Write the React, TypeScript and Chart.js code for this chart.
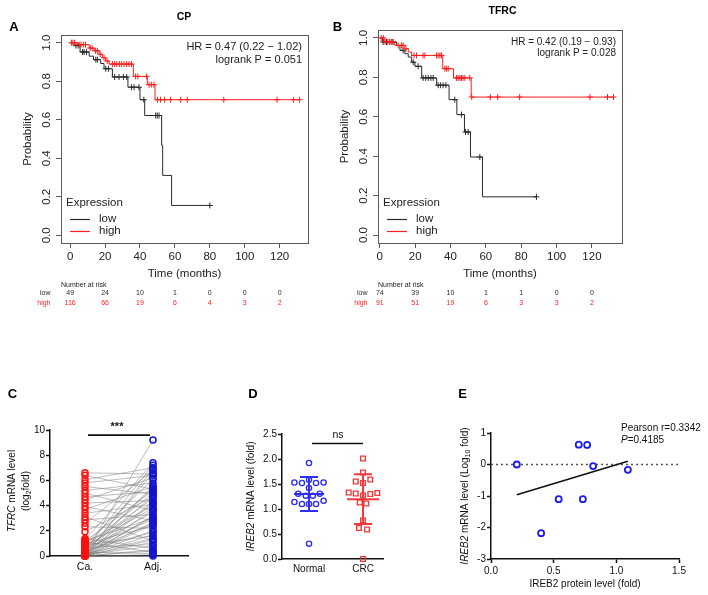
import React, { useEffect, useRef } from "react";
import { Chart, registerables } from "chart.js";

Chart.register(...registerables);

const FONT = "'Liberation Sans', Arial, Helvetica, sans-serif";
const f = (size: number, style = "") => `${style} ${size}px ${FONT}`.trim();

// ================= DATA =================
// Kaplan-Meier shared
const kmTimeTicks = [0, 20, 40, 60, 80, 100, 120];
const kmProbTicks = [0, 0.2, 0.4, 0.6, 0.8, 1.0];
const riskGroups = ["low", "high"];

// Panel A: CP
const cpLowTimes = [0, 2.3, 5.7, 10.9, 13.4, 17.5, 19.4, 24.2, 33.1, 40, 42.7, 52.4, 53, 58.1];
const cpLowSurv = [1, 0.985, 0.952, 0.93, 0.912, 0.892, 0.865, 0.822, 0.769, 0.704, 0.622, 0.467, 0.311, 0.155];
const cpLowCensor = [3.3, 4.6, 7.1, 8, 9.4, 14.7, 15.6, 20.4, 21.9, 25.5, 28, 30.5, 32.4, 35.1, 36.6, 39.4, 42.2, 49, 49.9, 50.9, 80];
const cpHighTimes = [0, 4.5, 10.9, 13.7, 16.6, 18.5, 20.4, 22.3, 36.2, 44.2, 48.6];
const cpHighSurv = [1, 0.99, 0.972, 0.958, 0.94, 0.922, 0.905, 0.889, 0.825, 0.782, 0.704];
const cpHighCensor = [0.8, 1.6, 2.5, 5.2, 6.2, 7.5, 8.8, 11.5, 12.6, 14.5, 15.6, 17.2, 19.4, 21.2, 24.2, 25.5, 26.7, 28.2, 29.5, 30.9, 32.4, 33.7, 35.1, 37.5, 38.8, 43.8, 45.2, 46.5, 48, 50, 51.8, 54.1, 57.5, 63.3, 67.1, 88, 118.5, 128, 131.4];
const cpRiskLow = [49, 24, 10, 1, 0, 0, 0];
const cpRiskHigh = [116, 66, 19, 6, 4, 3, 2];

// Panel B: TFRC
const tfLowTimes = [0, 1.5, 9.5, 11.4, 14.2, 16.1, 18, 19.9, 23.7, 32.2, 39.2, 43.6, 47.9, 51.3, 58.1];
const tfLowSurv = [1, 0.979, 0.962, 0.937, 0.92, 0.903, 0.877, 0.856, 0.797, 0.76, 0.687, 0.611, 0.523, 0.396, 0.194];
const tfLowCensor = [1.9, 3.8, 5.7, 7.5, 13.2, 18.9, 21.7, 24.5, 26, 27.4, 28.9, 30.2, 33, 34.3, 35.8, 37.4, 42.4, 46.2, 48.5, 50, 56.6, 88.6];
const tfHighTimes = [0, 2.5, 8.5, 14.2, 16.1, 18, 35.6, 41.7, 51.7];
const tfHighSurv = [1, 0.98, 0.962, 0.945, 0.928, 0.911, 0.844, 0.797, 0.7];
const tfHighCensor = [0.8, 2, 3, 4.5, 5.5, 6.6, 7.5, 10.4, 12.3, 13.2, 14.8, 19.4, 20.8, 24.5, 25.5, 32.1, 33, 34, 34.9, 36.8, 37.7, 38.7, 43.4, 44.3, 45.3, 46.2, 47.1, 48.1, 50.9, 52, 62.5, 66.7, 79.1, 118.9, 128.8, 132.2];
const tfRiskLow = [74, 39, 10, 1, 1, 0, 0];
const tfRiskHigh = [91, 51, 19, 6, 3, 3, 2];

// Panel C: paired TFRC mRNA
const pairCategories = ["Ca.", "Adj."];
const pairTicks = [0, 2, 4, 6, 8, 10];
const caValues = [
  6.6, 6.4, 6.06, 5.8, 5.52, 5.2, 4.99, 4.7, 4.46, 4.2, 3.92, 3.7, 3.39, 3.1, 2.86, 2.6, 2.32, 1.92, 1.39, 1.28,
  1.22, 1.16, 1.1, 1.04, 0.98, 0.92, 0.86, 0.8, 0.74, 0.68, 0.62, 0.56, 0.5, 0.45, 0.4, 0.35, 0.3, 0.26, 0.22, 0.18,
  0.15, 0.12, 0.1, 0.08, 0.06, 0.05, 0.04, 0.03, 0.02, 0.01, 0.0, 0.0, 0.0, 0.0, 0.0, 0.0, 0.0, 0.0, 0.0, 0.0,
];
const adjValues = [
  6.5, 5.3, 7.0, 6.4, 4.9, 5.8, 3.6, 5.1, 6.2, 4.4, 2.8, 5.5, 4.1, 1.2, 3.3, 6.8, 2.2, 4.7, 0.6, 7.4,
  3.0, 5.2, 0.3, 4.0, 2.4, 6.1, 1.6, 3.8, 5.0, 0.9, 2.9, 4.6, 7.2, 1.9, 3.5, 5.4, 0.2, 2.6, 4.3, 9.2,
  1.4, 3.1, 6.6, 0.8, 2.0, 4.8, 1.1, 3.7, 5.6, 0.4, 2.5, 4.2, 1.7, 6.9, 0.1, 3.2, 0.5, 2.7, 1.3, 0.0,
];

// Panel D: IREB2 mRNA
const groupCategories = ["Normal", "CRC"];
const groupTicks = [0, 0.5, 1.0, 1.5, 2.0, 2.5];
const normalValues = [1.92, 1.53, 1.52, 1.586, 1.52, 1.53, 1.42, 1.306, 1.266, 1.266, 1.306, 1.14, 1.1, 1.1, 1.1, 1.166, 0.306];
const normalJitter = [0, -0.27, -0.13, 0, 0.13, 0.27, 0, -0.2, -0.06, 0.07, 0.2, -0.27, -0.13, 0, 0.13, 0.27, 0];
const crcValues = [2.01, 1.73, 1.55, 1.52, 1.59, 1.33, 1.31, 1.27, 1.3, 1.32, 1.13, 1.11, 0.77, 0.62, 0.59, 0.0];
const crcJitter = [0, 0, -0.135, 0, 0.135, -0.265, -0.135, 0, 0.135, 0.265, -0.06, 0.06, 0, -0.075, 0.075, 0];

// Panel E: correlation
const proteinLevels = [0.206, 0.4, 0.54, 0.733, 0.815, 1.092, 0.7, 0.767];
const mrnaLog10 = [0, -2.18, -1.1, -1.1, -0.05, -0.17, 0.63, 0.62];
const corrXTicks = [0, 0.5, 1.0, 1.5];
const corrYTicks = [-3, -2, -1, 0, 1];

// ================= HELPERS =================
type Seg = { t: string; f: string; dy?: number };

function text(ctx: any, str: string, x: number, y: number, font: string, color: string, align: CanvasTextAlign = "center", rotate = false) {
  ctx.save();
  ctx.translate(x, y);
  if (rotate) ctx.rotate(-Math.PI / 2);
  ctx.font = font;
  ctx.fillStyle = color;
  ctx.textAlign = align;
  ctx.textBaseline = "middle";
  ctx.fillText(str, 0, 0);
  ctx.restore();
}

function rich(ctx: any, segs: Seg[], x: number, y: number, color: string, rotate = false, align: "left" | "center" = "center") {
  ctx.save();
  ctx.translate(x, y);
  if (rotate) ctx.rotate(-Math.PI / 2);
  ctx.fillStyle = color;
  ctx.textBaseline = "middle";
  ctx.textAlign = "left";
  let total = 0;
  for (const s of segs) {
    ctx.font = s.f;
    total += ctx.measureText(s.t).width;
  }
  let cx = align === "center" ? -total / 2 : 0;
  for (const s of segs) {
    ctx.font = s.f;
    ctx.fillText(s.t, cx, s.dy || 0);
    cx += ctx.measureText(s.t).width;
  }
  ctx.restore();
}

const fixedTicks = (values: number[]) => (axis: any) => {
  axis.ticks = values.map((v) => ({ value: v }));
};

function stepAt(times: number[], surv: number[], t: number) {
  let s = surv[0];
  for (let i = 0; i < times.length; i++) if (times[i] <= t) s = surv[i];
  return s;
}

const AX = 20;
function padFor(W: number, H: number, a: { l: number; t: number; r: number; b: number }) {
  return { left: a.l - AX, top: a.t, right: W - a.r, bottom: H - a.b - AX };
}

// ================= KM PANELS =================
const LOW = "#2a2a2a";
const HIGH = "#ff1f1f";

type KMSpec = {
  W: number; H: number;
  area: { l: number; t: number; r: number; b: number };
  xMin: number; xMax: number;
  lowTimes: number[]; lowSurv: number[]; lowCensor: number[];
  highTimes: number[]; highSurv: number[]; highCensor: number[];
  riskLow: number[]; riskHigh: number[];
  title: string; titleX: number; titleY: number;
  letter: string; letterX: number; letterY: number;
  hr: string; lr: string; hrSize: number; hrY1: number; hrY2: number;
};

function makeKM(s: KMSpec) {
  const curve = (times: number[], surv: number[], censor: number[]) => {
    const end = Math.max(times[times.length - 1], ...censor);
    return [...times.map((x, i) => ({ x, y: surv[i] })), { x: end, y: surv[surv.length - 1] }];
  };
  const marks = (times: number[], surv: number[], censor: number[]) =>
    censor.map((x) => ({ x, y: stepAt(times, surv, x) }));

  const decor = {
    id: "kmDecor",
    afterDraw(chart: any) {
      const { ctx, chartArea: a } = chart;
      const xs = chart.scales.x;
      const ys = chart.scales.y;
      ctx.save();
      ctx.strokeStyle = "#5a5a5a";
      ctx.lineWidth = 1;
      ctx.strokeRect(a.left + 0.5, a.top + 0.5, a.right - a.left, a.bottom - a.top);
      ctx.restore();
      kmProbTicks.forEach((v) => text(ctx, v.toFixed(1), a.left - 14, ys.getPixelForValue(v), f(11.5), "#222", "center", true));
      text(ctx, "Probability", a.left - 33, (a.top + a.bottom) / 2, f(11.5), "#222", "center", true);
      text(ctx, "Time (months)", (a.left + a.right) / 2, a.bottom + 31, f(11.5), "#222", "center");
      text(ctx, s.title, s.titleX, s.titleY, f(10.5, "bold"), "#000", "center");
      text(ctx, s.letter, s.letterX, s.letterY, f(13, "bold"), "#000", "center");
      text(ctx, s.hr, a.right - 6, s.hrY1, f(s.hrSize), "#222", "right");
      text(ctx, s.lr, a.right - 6, s.hrY2, f(s.hrSize), "#222", "right");
      // legend
      text(ctx, "Expression", a.left + 5, a.bottom - 40.5, f(11.5), "#222", "left");
      const leg: [string, string, number][] = [[LOW, riskGroups[0], 24], [HIGH, riskGroups[1], 12]];
      leg.forEach(([c, lab, off]) => {
        ctx.save();
        ctx.strokeStyle = c;
        ctx.lineWidth = 1.2;
        ctx.beginPath();
        ctx.moveTo(a.left + 9, a.bottom - off + 0.5);
        ctx.lineTo(a.left + 29, a.bottom - off + 0.5);
        ctx.stroke();
        ctx.restore();
        text(ctx, lab, a.left + 38, a.bottom - off, f(11.5), "#222", "left");
      });
      // number at risk
      text(ctx, "Number at risk", a.left, a.bottom + 42, f(7), "#222", "left");
      const rows: [number[], string, number][] = [[s.riskLow, LOW, 50.5], [s.riskHigh, HIGH, 60]];
      rows.forEach(([vals, c, off], gi) => {
        text(ctx, riskGroups[gi], a.left - 10.5, a.bottom + off, f(7), c, "right");
        vals.forEach((v, i) => text(ctx, String(v), xs.getPixelForValue(kmTimeTicks[i]), a.bottom + off, f(7), c, "center"));
      });
    },
  };

  const gridOpts = { drawOnChartArea: false, drawTicks: true, tickLength: 5, color: "#5a5a5a", lineWidth: 1 };
  return {
    type: "scatter",
    data: {
      datasets: [
        { data: curve(s.lowTimes, s.lowSurv, s.lowCensor), showLine: true, stepped: true, borderColor: LOW, borderWidth: 1, pointRadius: 0, fill: false, order: 3 },
        { data: curve(s.highTimes, s.highSurv, s.highCensor), showLine: true, stepped: true, borderColor: HIGH, borderWidth: 1, pointRadius: 0, fill: false, order: 2 },
        { data: marks(s.lowTimes, s.lowSurv, s.lowCensor), showLine: false, pointStyle: "cross", pointRadius: 3, borderColor: LOW, borderWidth: 1, order: 1 },
        { data: marks(s.highTimes, s.highSurv, s.highCensor), showLine: false, pointStyle: "cross", pointRadius: 3, borderColor: HIGH, borderWidth: 1, order: 0 },
      ],
    },
    options: {
      animation: false,
      responsive: false,
      devicePixelRatio: 1,
      events: [],
      layout: { padding: padFor(s.W, s.H, s.area) },
      plugins: { legend: { display: false }, tooltip: { enabled: false } },
      scales: {
        x: {
          type: "linear", min: s.xMin, max: s.xMax,
          afterBuildTicks: fixedTicks(kmTimeTicks),
          afterFit: (sc: any) => { sc.height = AX; },
          ticks: { font: { family: FONT, size: 11.5 }, color: "#222", padding: 2, autoSkip: false, maxRotation: 0, callback: (v: any) => String(v) },
          grid: gridOpts,
          border: { display: false },
        },
        y: {
          type: "linear", min: -0.04, max: 1.04,
          afterBuildTicks: fixedTicks(kmProbTicks),
          afterFit: (sc: any) => { sc.width = AX; },
          ticks: { color: "rgba(0,0,0,0)", font: { family: FONT, size: 11.5 } },
          grid: gridOpts,
          border: { display: false },
        },
      },
    },
    plugins: [decor],
  };
}

// ================= PANEL C =================
const RED_C = "#ff1010";
const BLUE_C = "#1414cc";
const AXIS = "#111";

const axisY = (min: number, max: number, ticks: number[], fmt: (v: number) => string) => ({
  type: "linear", min, max,
  afterBuildTicks: fixedTicks(ticks),
  afterFit: (sc: any) => { sc.width = AX; },
  ticks: { font: { family: FONT, size: 10 }, color: AXIS, padding: 1, callback: (v: any) => fmt(Number(v)) },
  grid: { drawOnChartArea: false, drawTicks: true, tickLength: 4, tickColor: AXIS, tickWidth: 1.5 },
  border: { display: true, color: AXIS, width: 1.5 },
});

function makeC() {
  const W = 200, H = 220;
  const area = { l: 50, t: 55, r: 188, b: 181 };
  const lineData: any[] = [];
  caValues.forEach((v, i) => {
    lineData.push({ x: 1, y: v }, { x: 2, y: adjValues[i] }, { x: 1.5, y: null });
  });
  const decor = {
    id: "cDecor",
    afterDraw(chart: any) {
      const { ctx, chartArea: a } = chart;
      const xs = chart.scales.x, ys = chart.scales.y;
      text(ctx, "C", 12.5, 19, f(13, "bold"), "#000", "center");
      const cy = (a.top + a.bottom) / 2 - 2;
      rich(ctx, [{ t: "TFRC", f: f(10, "italic") }, { t: " mRNA level", f: f(10) }], 12.5, cy, AXIS, true);
      rich(ctx, [{ t: "(log", f: f(10) }, { t: "2", f: f(7), dy: 3 }, { t: "fold)", f: f(10) }], 26.5, cy, AXIS, true);
      const sy = ys.getPixelForValue(9.6);
      ctx.save();
      ctx.strokeStyle = AXIS;
      ctx.lineWidth = 1.8;
      ctx.beginPath();
      ctx.moveTo(xs.getPixelForValue(1) + 3, sy);
      ctx.lineTo(xs.getPixelForValue(2) - 3, sy);
      ctx.stroke();
      ctx.restore();
      text(ctx, "***", (xs.getPixelForValue(1) + xs.getPixelForValue(2)) / 2 - 2, sy - 8, f(11, "bold"), AXIS, "center");
    },
  };
  return {
    type: "scatter",
    data: {
      datasets: [
        { data: lineData, showLine: true, spanGaps: false, borderColor: "rgba(120,120,120,0.7)", borderWidth: 0.7, pointRadius: 0, order: 3, clip: false },
        { data: caValues.map((y) => ({ x: 1, y })), showLine: false, pointRadius: 3, borderWidth: 1.5, borderColor: RED_C, backgroundColor: "rgba(0,0,0,0)", order: 2, clip: false },
        { data: adjValues.map((y) => ({ x: 2, y })), showLine: false, pointRadius: 3, borderWidth: 1.5, borderColor: BLUE_C, backgroundColor: "rgba(0,0,0,0)", order: 1, clip: false },
      ],
    },
    options: {
      animation: false, responsive: false, devicePixelRatio: 1, events: [],
      layout: { padding: padFor(W, H, area) },
      plugins: { legend: { display: false }, tooltip: { enabled: false } },
      scales: {
        x: {
          type: "linear", min: 0.485, max: 2.515,
          afterBuildTicks: fixedTicks([1, 2]),
          afterFit: (sc: any) => { sc.height = AX; },
          ticks: { font: { family: FONT, size: 10.5 }, color: AXIS, padding: 5, autoSkip: false, maxRotation: 0, callback: (v: any) => pairCategories[Number(v) - 1] },
          grid: { drawOnChartArea: false, drawTicks: false },
          border: { display: true, color: AXIS, width: 1.5 },
        },
        y: axisY(0, 10, pairTicks, (v) => String(v)),
      },
    },
    plugins: [decor],
  };
}

// ================= PANEL D =================
const BLUE_D = "#2f2ff2";
const RED_D = "#f03a3a";

function meanSd(arr: number[]) {
  const m = arr.reduce((a, b) => a + b, 0) / arr.length;
  const sd = Math.sqrt(arr.reduce((a, b) => a + (b - m) * (b - m), 0) / (arr.length - 1));
  return { m, sd };
}

function makeD() {
  const W = 200, H = 220;
  const area = { l: 82, t: 59, r: 183, b: 184 };
  const decor = {
    id: "dDecor",
    afterDatasetsDraw(chart: any) {
      const { ctx } = chart;
      const xs = chart.scales.x, ys = chart.scales.y;
      [[normalValues, BLUE_D, 1, 15], [crcValues, RED_D, 2, 16]].forEach(([vals, c, gx, hw]: any) => {
        const { m, sd } = meanSd(vals);
        const x = xs.getPixelForValue(gx);
        const ym = ys.getPixelForValue(m), y1 = ys.getPixelForValue(m + sd), y2 = ys.getPixelForValue(m - sd);
        ctx.save();
        ctx.strokeStyle = c;
        ctx.lineWidth = 2;
        ctx.beginPath();
        ctx.moveTo(x - hw, ym); ctx.lineTo(x + hw, ym);
        ctx.moveTo(x - 9, y1); ctx.lineTo(x + 9, y1);
        ctx.moveTo(x - 9, y2); ctx.lineTo(x + 9, y2);
        ctx.moveTo(x, y1); ctx.lineTo(x, y2);
        ctx.stroke();
        ctx.restore();
      });
    },
    afterDraw(chart: any) {
      const { ctx, chartArea: a } = chart;
      const xs = chart.scales.x, ys = chart.scales.y;
      text(ctx, "D", 53, 19, f(13, "bold"), "#000", "center");
      rich(ctx, [{ t: "IREB2", f: f(10, "italic") }, { t: " mRNA level (fold)", f: f(10) }], 51.7, (a.top + a.bottom) / 2, AXIS, true);
      const sy = ys.getPixelForValue(2.31);
      ctx.save();
      ctx.strokeStyle = AXIS;
      ctx.lineWidth = 1.5;
      ctx.beginPath();
      ctx.moveTo(xs.getPixelForValue(1) + 3, sy);
      ctx.lineTo(xs.getPixelForValue(2), sy);
      ctx.stroke();
      ctx.restore();
      text(ctx, "ns", (xs.getPixelForValue(1) + xs.getPixelForValue(2)) / 2 + 2, sy - 8, f(10.5), AXIS, "center");
    },
  };
  return {
    type: "scatter",
    data: {
      datasets: [
        { data: normalValues.map((y, i) => ({ x: 1 + normalJitter[i], y })), pointStyle: "circle", pointRadius: 2.6, borderWidth: 1.4, borderColor: BLUE_D, backgroundColor: "rgba(0,0,0,0)", clip: false },
        { data: crcValues.map((y, i) => ({ x: 2 + crcJitter[i], y })), pointStyle: "rect", pointRadius: 3.3, borderWidth: 1.4, borderColor: RED_D, backgroundColor: "rgba(0,0,0,0)", clip: false },
      ],
    },
    options: {
      animation: false, responsive: false, devicePixelRatio: 1, events: [],
      layout: { padding: padFor(W, H, area) },
      plugins: { legend: { display: false }, tooltip: { enabled: false } },
      scales: {
        x: {
          type: "linear", min: 0.5, max: 2.37,
          afterBuildTicks: fixedTicks([1, 2]),
          afterFit: (sc: any) => { sc.height = AX; },
          ticks: { font: { family: FONT, size: 10 }, color: AXIS, padding: 4, autoSkip: false, maxRotation: 0, callback: (v: any) => groupCategories[Number(v) - 1] },
          grid: { drawOnChartArea: false, drawTicks: false },
          border: { display: true, color: AXIS, width: 1.5 },
        },
        y: axisY(0, 2.5, groupTicks, (v) => v.toFixed(1)),
      },
    },
    plugins: [decor],
  };
}

// ================= PANEL E =================
const BLUE_E = "#1c1cf0";

function makeE() {
  const W = 308, H = 220;
  const area = { l: 91, t: 58, r: 279, b: 184 };
  const n = proteinLevels.length;
  const mx = proteinLevels.reduce((a, b) => a + b, 0) / n;
  const my = mrnaLog10.reduce((a, b) => a + b, 0) / n;
  let sxy = 0, sxx = 0;
  proteinLevels.forEach((x, i) => { sxy += (x - mx) * (mrnaLog10[i] - my); sxx += (x - mx) * (x - mx); });
  const slope = sxy / sxx;
  const icpt = my - slope * mx;
  const x0 = Math.min(...proteinLevels), x1 = Math.max(...proteinLevels);
  const decor = {
    id: "eDecor",
    afterDraw(chart: any) {
      const { ctx, chartArea: a } = chart;
      text(ctx, "E", 62.5, 19, f(13, "bold"), "#000", "center");
      rich(ctx, [
        { t: "IREB2", f: f(10, "italic") },
        { t: " mRNA level (Log", f: f(10) },
        { t: "10", f: f(7), dy: 3 },
        { t: " fold)", f: f(10) },
      ], 65, (a.top + a.bottom) / 2, AXIS, true);
      text(ctx, "IREB2 protein level (fold)", (a.left + a.right) / 2, 209, f(10), AXIS, "center");
      text(ctx, "Pearson r=0.3342", 221, 53, f(10), AXIS, "left");
      rich(ctx, [{ t: "P", f: f(10, "italic") }, { t: "=0.4185", f: f(10) }], 221, 65, AXIS, false, "left");
    },
  };
  return {
    type: "scatter",
    data: {
      datasets: [
        { data: proteinLevels.map((x, i) => ({ x, y: mrnaLog10[i] })), pointRadius: 3, borderWidth: 1.8, borderColor: BLUE_E, backgroundColor: "#fff", order: 1, clip: false },
        { data: [{ x: x0, y: icpt + slope * x0 }, { x: x1, y: icpt + slope * x1 }], showLine: true, pointRadius: 0, borderColor: "#111", borderWidth: 1.6, order: 2, clip: false },
        { data: [{ x: corrXTicks[0], y: 0 }, { x: corrXTicks[corrXTicks.length - 1], y: 0 }], showLine: true, pointRadius: 0, borderColor: "#555", borderWidth: 1.5, borderDash: [2, 3], order: 3, clip: false },
      ],
    },
    options: {
      animation: false, responsive: false, devicePixelRatio: 1, events: [],
      layout: { padding: padFor(W, H, area) },
      plugins: { legend: { display: false }, tooltip: { enabled: false } },
      scales: {
        x: {
          type: "linear", min: 0, max: 1.5,
          afterBuildTicks: fixedTicks(corrXTicks),
          afterFit: (sc: any) => { sc.height = AX; },
          ticks: { font: { family: FONT, size: 10 }, color: AXIS, padding: 2, autoSkip: false, maxRotation: 0, callback: (v: any) => Number(v).toFixed(1) },
          grid: { drawOnChartArea: false, drawTicks: true, tickLength: 4, tickColor: AXIS, tickWidth: 1.5 },
          border: { display: true, color: AXIS, width: 1.5 },
        },
        y: axisY(-3, 1, corrYTicks, (v) => String(v)),
      },
    },
    plugins: [decor],
  };
}

// ================= SPECS =================
const specA: KMSpec = {
  W: 325, H: 315, area: { l: 61, t: 35, r: 308, b: 243 }, xMin: -5.24, xMax: 136.24,
  lowTimes: cpLowTimes, lowSurv: cpLowSurv, lowCensor: cpLowCensor,
  highTimes: cpHighTimes, highSurv: cpHighSurv, highCensor: cpHighCensor,
  riskLow: cpRiskLow, riskHigh: cpRiskHigh,
  title: "CP", titleX: 184, titleY: 17, letter: "A", letterX: 14, letterY: 27,
  hr: "HR = 0.47 (0.22 \u2212 1.02)", lr: "logrank P = 0.051", hrSize: 11, hrY1: 47, hrY2: 60,
};
const specB: KMSpec = {
  W: 383, H: 315, area: { l: 53, t: 30, r: 297, b: 243 }, xMin: -1, xMax: 137,
  lowTimes: tfLowTimes, lowSurv: tfLowSurv, lowCensor: tfLowCensor,
  highTimes: tfHighTimes, highSurv: tfHighSurv, highCensor: tfHighCensor,
  riskLow: tfRiskLow, riskHigh: tfRiskHigh,
  title: "TFRC", titleX: 177.5, titleY: 11, letter: "B", letterX: 12.5, letterY: 27,
  hr: "HR = 0.42 (0.19 \u2212 0.93)", lr: "logrank P = 0.028", hrSize: 10, hrY1: 42.5, hrY2: 53.5,
};

// ================= COMPONENTS =================
function Panel({ left, top, width, height, make }: { left: number; top: number; width: number; height: number; make: () => any }) {
  const ref = useRef<HTMLCanvasElement>(null);
  useEffect(() => {
    const chart = new Chart(ref.current as HTMLCanvasElement, make());
    return () => chart.destroy();
  }, []);
  return (
    <canvas ref={ref} width={width} height={height} style={{ position: "absolute", left, top, width, height }} />
  );
}

export default function App() {
  return (
    <div style={{ position: "absolute", left: 0, top: 0, width: 708, height: 595, background: "#fff", overflow: "hidden" }}>
      <Panel left={0} top={0} width={325} height={315} make={() => makeKM(specA)} />
      <Panel left={325} top={0} width={383} height={315} make={() => makeKM(specB)} />
      <Panel left={0} top={375} width={200} height={220} make={makeC} />
      <Panel left={200} top={375} width={200} height={220} make={makeD} />
      <Panel left={400} top={375} width={308} height={220} make={makeE} />
    </div>
  );
}
